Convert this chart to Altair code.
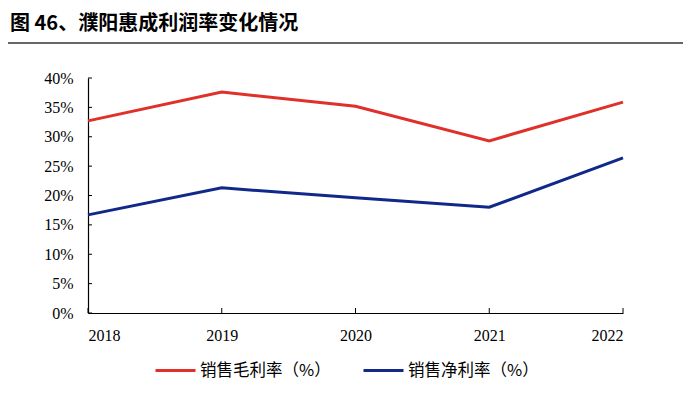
import altair as alt
import pandas as pd

years = [2018, 2019, 2020, 2021, 2022]
gross = [0.327, 0.376, 0.352, 0.293, 0.359]
net = [0.167, 0.213, 0.196, 0.180, 0.264]
series_names = ["销售毛利率（%）", "销售净利率（%）"]
colors = ["#E0302A", "#10288A"]
y_ticks = [0, 0.05, 0.10, 0.15, 0.20, 0.25, 0.30, 0.35, 0.40]
title_text = "图 46、濮阳惠成利润率变化情况"

df = pd.DataFrame({
    "year": years * 2,
    "value": gross + net,
    "series": [series_names[0]] * len(years) + [series_names[1]] * len(years),
})

W, H = 535, 235
serif = "Liberation Serif"
cjk = "Noto Sans CJK SC"

x_scale = alt.Scale(domain=[2018, 2022], nice=False, zero=False)
y_scale = alt.Scale(domain=[0, 0.4], nice=False)

x_axis = alt.Axis(values=years, format="d", title=None, grid=False, ticks=False,
                  labelFont=serif, labelFontSize=16, labelColor="#000",
                  labelOverlap=False, labelPadding=14,
                  domainColor="#000", domainWidth=1.2)
y_axis = alt.Axis(values=y_ticks, format=".0%", title=None, grid=False, ticks=False,
                  labelFont=serif, labelFontSize=16, labelColor="#000",
                  labelOverlap=False, labelPadding=15,
                  domainColor="#000", domainWidth=1.2)

lines = alt.Chart(df).mark_line(strokeWidth=3).encode(
    x=alt.X("year:Q", scale=x_scale, axis=x_axis),
    y=alt.Y("value:Q", scale=y_scale, axis=y_axis),
    color=alt.Color("series:N",
                    scale=alt.Scale(domain=series_names, range=colors),
                    legend=alt.Legend(title=None, orient="none", direction="horizontal",
                                      legendX=66, legendY=271,
                                      symbolType="stroke", symbolStrokeWidth=3, symbolSize=1600,
                                      labelFont=cjk, labelFontSize=16.5, labelColor="#000",
                                      labelOffset=3, columnPadding=26)),
)

ytick_df = pd.DataFrame({"v": y_ticks})
yticks = alt.Chart(ytick_df).mark_rule(color="#000", strokeWidth=1).encode(
    y=alt.Y("v:Q", scale=y_scale, axis=y_axis), x=alt.value(0), x2=alt.value(4))

xtick_df = pd.DataFrame({"yr": years})
xticks = alt.Chart(xtick_df).mark_rule(color="#000", strokeWidth=1).encode(
    x=alt.X("yr:Q", scale=x_scale, axis=x_axis), y=alt.value(H), y2=alt.value(H - 5))

title_df = pd.DataFrame({"t": [title_text]})
title = alt.Chart(title_df).mark_text(align="left", baseline="middle", font=cjk,
                                      fontSize=20, fontWeight="bold", color="#000").encode(
    text="t:N", x=alt.value(-78), y=alt.value(-54))

rule = alt.Chart(title_df).mark_rule(color="#333", strokeWidth=1.5).encode(
    x=alt.value(-88), x2=alt.value(610), y=alt.value(-35))

chart = alt.layer(lines, yticks, xticks, title, rule).properties(
    width=W, height=H,
    autosize=alt.AutoSizeParams(type="none"),
    padding={"left": 80, "top": 70, "right": 60, "bottom": 90},
).configure_view(stroke=None).resolve_scale(x="shared", y="shared")

chart.save("out.html", embed_options={"renderer": "svg", "actions": False})
